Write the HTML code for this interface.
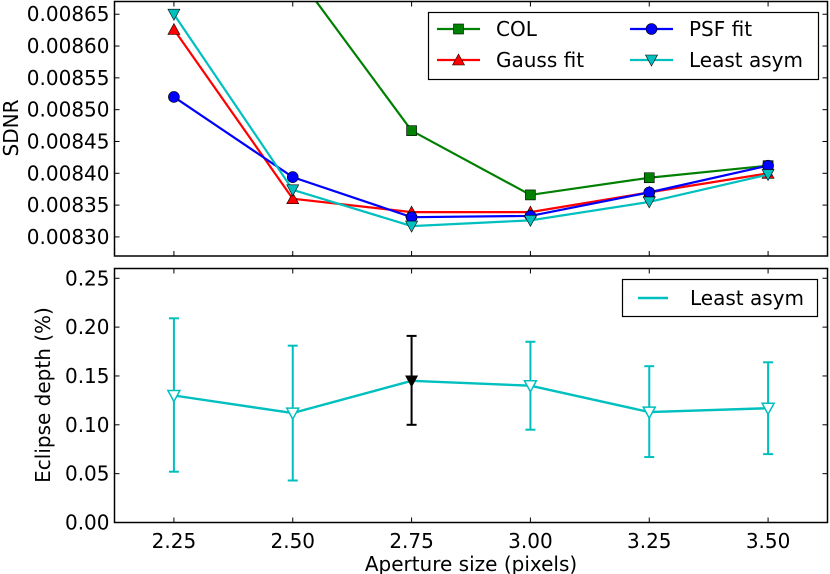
<!DOCTYPE html>
<html><head><meta charset="utf-8"><style>
body{margin:0;background:#fff}
svg{display:block;font-family:"DejaVu Sans","Liberation Sans",sans-serif}
</style></head><body>
<svg id="c" width="830" height="574" viewBox="0 0 830 574"></svg>
<script>
const apertures=[2.25,2.50,2.75,3.00,3.25,3.50];
const colVals=[0.0090,0.00872,0.008467,0.008366,0.008393,0.008412];
const gaussVals=[0.008626,0.008360,0.008339,0.008339,0.008370,0.008400];
const psfVals=[0.008520,0.008394,0.008331,0.008333,0.008370,0.008412];
const leastVals=[0.008650,0.008374,0.008317,0.008326,0.008355,0.008398];
const depthVals=[0.130,0.112,0.145,0.140,0.113,0.117];
const depthLo=[0.052,0.043,0.100,0.095,0.067,0.070];
const depthHi=[0.209,0.181,0.191,0.185,0.160,0.164];
const xTicks=["2.25","2.50","2.75","3.00","3.25","3.50"];
const topTicks=["0.00830","0.00835","0.00840","0.00845","0.00850","0.00855","0.00860","0.00865"];
const botTicks=["0.00","0.05","0.10","0.15","0.20","0.25"];

const NS="http://www.w3.org/2000/svg";
const svg=document.getElementById('c');
function mk(tag,attrs,parent){const e=document.createElementNS(NS,tag);for(const k in attrs)e.setAttribute(k,attrs[k]);(parent||svg).appendChild(e);return e;}
const FS=20;
const L=114.5,R=827.5;
const xs=v=>L+(v-2.125)/(3.625-2.125)*(R-L);
const T1=1.5,B1=256,y1min=0.00827,y1max=0.00867;
const ys1=v=>B1-(v-y1min)/(y1max-y1min)*(B1-T1);
const T2=268.5,B2=522.5,y2max=0.26;
const ys2=v=>B2-v/y2max*(B2-T2);

const defs=mk('defs',{});
const cp1=mk('clipPath',{id:'cp1'},defs);mk('rect',{x:L,y:T1,width:R-L,height:B1-T1},cp1);
const cp2=mk('clipPath',{id:'cp2'},defs);mk('rect',{x:L,y:T2,width:R-L,height:B2-T2},cp2);

function marker(g,type,x,y,color,fill){
  let e;
  if(type==='s')e=mk('rect',{x:x-5,y:y-5,width:10,height:10,fill:color,stroke:'#000','stroke-width':0.6},g);
  else if(type==='o')e=mk('circle',{cx:x,cy:y,r:5.5,fill:color,stroke:'#000','stroke-width':0.6},g);
  else if(type==='^')e=mk('polygon',{points:`${x},${y-6} ${x-6},${y+5} ${x+6},${y+5}`,fill:color,stroke:'#000','stroke-width':0.6},g);
  else e=mk('polygon',{points:`${x},${y+6} ${x-6},${y-5} ${x+6},${y-5}`,fill:fill||color,stroke:fill?color:'#000','stroke-width':fill?1.5:0.6},g);
  return e;
}

const series=[
 {name:'col',vals:colVals,color:'#008000',m:'s'},
 {name:'gauss',vals:gaussVals,color:'#ff0000',m:'^'},
 {name:'psf',vals:psfVals,color:'#0000ff',m:'o'},
 {name:'least-asym',vals:leastVals,color:'#00bfbf',m:'v'}];
const g1=mk('g',{'clip-path':'url(#cp1)'});


series.forEach(s=>{
  const g=mk('g',{},g1);
  
  
  mk('polyline',{points:s.vals.map((v,i)=>xs(apertures[i])+','+ys1(v)).join(' '),fill:'none',stroke:s.color,'stroke-width':2.2},g);
  s.vals.forEach((v,i)=>{const p=marker(g,s.m,xs(apertures[i]),ys1(v),s.color);
    
    });
});
function frame(T,B,name){
  const r=mk('rect',{x:L,y:T,width:R-L,height:B-T,fill:'none',stroke:'#000','stroke-width':1.5});
  
  
  apertures.forEach(a=>{const x=xs(a);
    mk('line',{x1:x,x2:x,y1:B,y2:B-5,stroke:'#000'});
    mk('line',{x1:x,x2:x,y1:T,y2:T+5,stroke:'#000'});});
}
frame(T1,B1,'sdnr-axes-frame');
topTicks.forEach(t=>{const y=ys1(parseFloat(t));
  mk('line',{x1:L,x2:L+5,y1:y,y2:y,stroke:'#000'});mk('line',{x1:R,x2:R-5,y1:y,y2:y,stroke:'#000'});
  const tx=mk('text',{x:L-5,y:y+7,'text-anchor':'end','font-size':FS});tx.textContent=t;
  
  });
const yl1=mk('text',{x:0,y:0,transform:`translate(18,128) rotate(-90)`,'text-anchor':'middle','font-size':FS});
yl1.textContent='SDNR';



const lg=mk('g',{});


mk('rect',{x:428.5,y:12.5,width:390,height:67,fill:'#fff',stroke:'#000','stroke-width':1.2},lg);
const lpos=[[437,29,'COL'],[437,60,'Gauss fit'],[630,29,'PSF fit'],[630,60,'Least asym']];
[0,1,2,3].forEach(k=>{
  const s=series[k];const [x,y,lab]=lpos[k];
  const e=mk('g',{},lg);
  
  
  mk('line',{x1:x,x2:x+43,y1:y,y2:y,stroke:s.color,'stroke-width':2.2},e);
  marker(e,s.m,x+21.5,y,s.color);
  const t=mk('text',{x:x+59,y:y+7,'font-size':FS},e);t.textContent=lab;
});

const g2=mk('g',{'clip-path':'url(#cp2)'});


mk('polyline',{points:depthVals.map((v,i)=>xs(apertures[i])+','+ys2(v)).join(' '),fill:'none',stroke:'#00bfbf','stroke-width':2.4},g2);
depthVals.forEach((v,i)=>{
  const c=i===2?'#000':'#00bfbf';const x=xs(apertures[i]);
  const eb=mk('g',{},g2);
  
  
  mk('line',{x1:x,x2:x,y1:ys2(depthLo[i]),y2:ys2(depthHi[i]),stroke:c,'stroke-width':2},eb);
  mk('line',{x1:x-5,x2:x+5,y1:ys2(depthLo[i]),y2:ys2(depthLo[i]),stroke:c,'stroke-width':2},eb);
  mk('line',{x1:x-5,x2:x+5,y1:ys2(depthHi[i]),y2:ys2(depthHi[i]),stroke:c,'stroke-width':2},eb);
  const p=i===2?marker(eb,'v',x,ys2(v),'#000'):marker(eb,'v',x,ys2(v),'#00bfbf','#fff');
  
  
});
frame(T2,B2,'eclipse-axes-frame');
botTicks.forEach(t=>{const y=ys2(parseFloat(t));
  mk('line',{x1:L,x2:L+5,y1:y,y2:y,stroke:'#000'});mk('line',{x1:R,x2:R-5,y1:y,y2:y,stroke:'#000'});
  const tx=mk('text',{x:L-5,y:y+7,'text-anchor':'end','font-size':FS});tx.textContent=t;
  
  });
xTicks.forEach((t,i)=>{const tx=mk('text',{x:xs(apertures[i]),y:548,'text-anchor':'middle','font-size':FS});tx.textContent=t;
  
  });
const xl=mk('text',{x:471,y:571,'text-anchor':'middle','font-size':FS});xl.textContent='Aperture size (pixels)';


const yl2=mk('text',{x:0,y:0,transform:`translate(50,395) rotate(-90)`,'text-anchor':'middle','font-size':FS});
yl2.textContent='Eclipse depth (%)';


const lg2=mk('g',{});


mk('rect',{x:622.5,y:279.5,width:195,height:37,fill:'#fff',stroke:'#000','stroke-width':1.2},lg2);
mk('line',{x1:638,x2:668,y1:298,y2:298,stroke:'#00bfbf','stroke-width':2.4},lg2);
const lt=mk('text',{x:690,y:305,'font-size':FS},lg2);lt.textContent='Least asym';
</script>
</body></html>
